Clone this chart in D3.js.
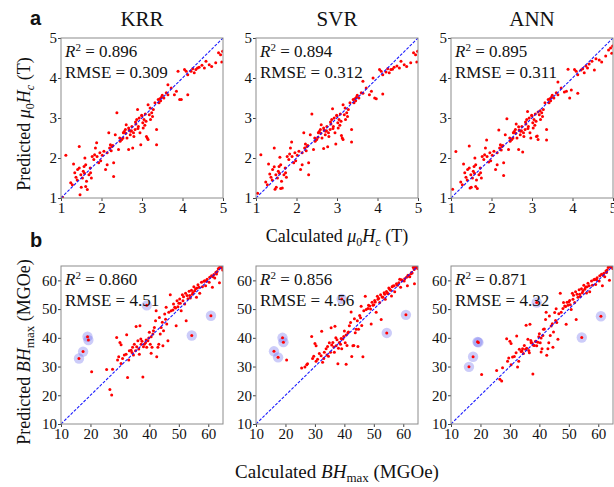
<!DOCTYPE html>
<html>
<head>
<meta charset="utf-8">
<script src="https://cdn.jsdelivr.net/npm/d3@7"></script>
<style>
  body { margin: 0; background: #fff; }
  text { font-family: "Liberation Serif", "Times New Roman", serif; fill: #111; }
</style>
</head>
<body>
<svg id="chart" width="614" height="487"></svg>
<script>
// models shown in each row
var models = ["KRR", "SVR", "ANN"];

// row a: coercivity mu0Hc (T)
var hcTicks = [1, 2, 3, 4, 5];
var hcR2 = ["0.896", "0.894", "0.895"];
var hcRmse = ["0.309", "0.312", "0.311"];

var hcCalc = [1.04,1.12,1.31,1.34,1.37,1.24,1.28,1.41,1.45,1.45,
  1.49,1.50,1.47,1.53,1.55,1.57,1.59,1.61,1.61,1.63,
  1.65,1.69,1.72,1.73,1.75,1.77,1.81,1.83,1.85,1.88,
  1.89,1.93,1.96,1.98,2.02,2.06,2.10,2.14,2.14,2.18,
  2.20,2.22,2.24,2.26,2.28,2.30,2.30,2.34,2.38,2.42,
  2.45,2.46,2.50,2.53,2.54,2.59,2.61,2.63,2.67,2.67,
  2.71,2.72,2.75,2.77,2.79,2.80,2.83,2.85,2.87,2.89,
  2.91,2.93,2.95,2.97,2.99,3.02,3.03,3.05,3.07,3.10,
  3.11,3.13,3.15,3.15,3.18,3.20,3.21,3.24,3.26,3.28,
  3.32,3.36,3.36,3.40,3.42,3.44,3.46,3.48,3.50,3.54,
  3.60,3.64,3.64,3.72,3.80,3.85,3.93,3.97,4.13,3.89,
  4.05,4.09,4.13,4.21,4.25,4.29,4.33,4.37,4.41,4.48,
  4.54,4.58,4.66,4.72,4.82,4.89,4.94,4.97,4.99,
  2.60,2.74,2.90,3.00,2.56,3.08,1.40,1.58,2.68,2.84];

var krrHc = [1.02,2.07,1.85,1.63,1.52,1.38,1.33,1.71,1.75,2.29,
  1.58,1.27,1.08,1.50,1.67,1.79,2.00,1.83,1.29,1.42,
  1.21,1.58,1.75,1.63,1.50,2.04,1.96,2.08,2.25,2.38,
  2.04,1.88,2.13,1.93,2.07,2.17,1.71,1.83,2.13,2.63,
  2.25,2.33,2.18,2.29,2.31,1.88,1.54,2.58,3.13,2.21,
  2.50,2.42,2.46,2.50,2.63,2.71,2.83,2.50,2.21,2.75,
  2.58,2.67,2.79,2.25,2.63,2.54,2.71,2.85,2.96,3.21,
  2.79,3.00,2.63,2.33,3.07,2.88,2.75,2.96,2.82,2.92,
  2.54,2.50,2.46,3.33,3.08,3.25,2.96,3.13,3.04,3.21,
  3.38,2.71,2.33,3.46,3.38,3.48,3.43,3.52,3.57,3.50,
  3.63,3.83,3.58,3.75,3.58,3.67,3.46,3.46,3.58,4.17,
  4.21,4.17,4.08,4.17,4.23,4.13,4.21,4.25,4.27,4.32,
  4.25,4.42,4.33,4.29,4.38,4.63,4.58,4.40,4.67,
  2.62,2.68,2.74,3.05,2.66,3.10,1.45,1.62,2.70,2.90];

var svrHc = [1.12,2.08,1.85,1.60,1.52,1.40,1.33,1.71,1.78,2.25,
  1.58,1.27,1.22,1.50,1.67,1.79,2.02,1.83,1.24,1.42,
  1.25,1.58,1.75,1.63,1.52,2.04,1.96,2.10,2.25,2.40,
  2.04,1.88,2.13,1.93,2.07,2.17,1.71,1.83,2.13,2.63,
  2.25,2.35,2.18,2.29,2.31,1.88,1.58,2.58,3.10,2.21,
  2.50,2.42,2.46,2.52,2.63,2.71,2.83,2.50,2.24,2.75,
  2.58,2.67,2.79,2.28,2.63,2.54,2.71,2.85,2.96,3.23,
  2.79,3.00,2.63,2.35,3.07,2.88,2.75,2.96,2.82,2.92,
  2.56,2.50,2.46,3.33,3.08,3.25,2.96,3.13,3.04,3.21,
  3.38,2.71,2.40,3.46,3.38,3.48,3.43,3.52,3.57,3.50,
  3.63,3.92,3.62,3.75,3.58,3.67,3.50,3.48,3.60,4.00,
  4.21,4.17,4.08,4.15,4.23,4.13,4.21,4.22,4.27,4.30,
  4.25,4.42,4.33,4.29,4.38,4.63,4.58,4.40,4.67,
  2.62,2.68,2.74,3.05,2.66,3.10,1.45,1.62,2.70,2.90];

var annHc = [1.22,2.16,1.85,1.63,1.52,1.40,1.33,1.71,1.75,2.30,
  1.58,1.27,1.25,1.50,1.67,1.79,2.00,1.83,1.29,1.45,
  1.24,1.58,1.75,1.63,1.50,2.04,1.96,2.08,2.25,2.45,
  2.04,1.90,2.13,1.93,2.07,2.17,1.71,1.83,2.13,2.70,
  2.25,2.33,2.20,2.29,2.31,1.88,1.56,2.58,2.98,2.21,
  2.50,2.42,2.46,2.50,2.63,2.71,2.85,2.50,2.21,2.78,
  2.58,2.67,2.79,2.15,2.63,2.54,2.71,2.85,2.96,3.16,
  2.79,3.00,2.63,2.50,3.07,2.88,2.75,2.96,2.82,2.92,
  2.54,2.55,2.46,3.15,3.08,3.18,2.96,3.13,3.04,3.21,
  3.38,2.71,2.45,3.46,3.38,3.48,3.43,3.52,3.57,3.50,
  3.63,3.90,3.58,3.75,3.65,3.67,3.50,3.70,3.62,4.22,
  4.21,4.17,4.08,4.20,4.23,4.13,4.30,4.25,4.35,4.42,
  4.20,4.48,4.45,4.40,4.55,4.70,4.75,4.62,4.80,
  2.62,2.68,2.74,3.05,2.66,3.10,1.45,1.62,2.70,2.90];

// row b: energy product BHmax (MGOe)
var bhTicks = [10, 20, 30, 40, 50, 60];
var bhR2 = ["0.860", "0.856", "0.871"];
var bhRmse = ["4.51", "4.56", "4.32"];

var bhCalc = [20.4,25.5,26.6,27.2,27.5,28.9,29.2,29.6,30.0,30.4,
  30.4,30.9,31.5,32.1,32.3,32.6,33.0,33.2,33.8,34.1,
  34.3,34.6,34.9,35.3,35.5,35.7,36.1,36.4,36.6,36.8,
  37.1,37.2,37.5,37.8,38.0,38.3,38.7,38.9,39.1,39.5,
  39.8,40.0,40.3,40.6,40.6,40.9,41.2,41.4,41.7,42.1,
  42.3,42.5,42.9,43.2,43.4,43.7,44.0,44.4,44.6,44.8,
  45.2,45.5,45.7,45.9,46.3,46.6,47.1,47.4,48.0,48.2,
  48.6,48.9,49.1,49.4,49.7,50.0,50.3,50.5,50.8,51.2,
  51.4,51.6,52.0,52.3,52.5,52.8,53.1,53.5,53.7,53.9,
  54.3,54.6,54.8,55.1,55.4,55.7,56.0,56.2,56.5,56.9,
  57.1,57.7,58.0,58.5,58.8,59.1,59.4,59.6,60.3,60.5,
  61.1,61.4,61.6,61.9,62.2,62.6,62.8,63.0,63.4,63.7,
  63.9,64.2,64.5,64.8,64.9,63.8,64.6,64.9,64.7];

var krrBh = [28.2,29.0,22.0,20.1,29.1,40.1,32.3,33.4,38.4,37.6,
  31.1,32.8,34.0,34.3,41.1,26.2,32.3,35.5,35.7,34.9,
  36.7,34.0,37.8,35.5,43.9,36.9,39.0,36.1,34.3,44.2,
  39.6,37.8,38.8,26.4,36.9,37.8,38.3,39.2,36.7,39.0,
  39.9,41.9,37.8,40.4,34.6,36.7,41.3,42.5,43.6,45.9,
  49.4,33.4,36.7,37.8,47.1,41.3,43.6,45.4,37.2,42.5,
  48.3,46.5,50.6,44.8,39.0,48.9,55.0,49.4,49.7,51.8,
  50.6,50.4,44.2,52.9,50.8,52.0,53.5,52.0,49.4,55.0,
  52.9,54.3,51.8,55.5,45.9,54.7,53.6,56.2,54.7,53.9,
  56.6,55.2,55.8,57.8,56.4,57.1,54.1,57.3,58.5,57.6,
  55.5,59.3,57.8,59.7,59.9,58.1,59.7,60.4,59.3,61.1,
  61.6,57.6,61.3,62.0,60.8,62.8,62.2,63.1,64.0,64.3,
  64.5,64.8,64.8,64.3,63.6,59.2,64.9,64.6,65.0];

var svrBh = [32.3,29.5,29.8,30.6,31.0,40.5,32.8,33.6,38.0,37.2,
  31.8,32.5,34.5,33.8,42.3,31.5,32.8,35.0,36.2,34.0,
  37.0,33.6,38.3,35.0,43.5,37.5,38.4,36.8,35.0,44.0,
  40.0,37.2,39.3,31.0,36.4,38.4,37.8,39.8,36.2,39.6,
  40.5,42.4,38.3,41.0,30.8,37.3,41.8,42.0,44.2,45.3,
  49.0,33.5,37.2,37.3,46.6,41.8,43.0,45.9,37.0,43.0,
  47.8,47.0,51.0,44.3,33.4,49.4,54.5,49.9,50.2,51.3,
  51.1,50.0,44.8,52.4,51.3,51.5,53.0,52.5,48.9,54.5,
  53.4,53.8,52.3,55.0,46.4,54.2,54.1,55.7,55.2,53.4,
  56.1,55.7,55.3,57.3,56.9,56.6,54.6,57.8,58.0,58.1,
  56.0,58.8,58.3,59.2,60.4,57.6,60.2,59.9,59.8,60.6,
  61.1,58.1,61.8,61.5,61.3,62.3,62.7,62.6,64.5,63.8,
  64.8,64.4,64.9,64.7,64.1,58.8,64.9,64.8,65.0];

var annBh = [27.2,28.6,25.6,25.0,29.6,39.7,31.8,33.0,38.8,38.0,
  30.6,33.3,33.5,34.8,40.6,29.8,31.8,36.0,35.2,35.4,
  36.2,34.5,37.3,36.0,44.4,36.4,39.5,35.6,34.8,44.7,
  39.1,38.3,38.3,27.4,37.4,37.3,38.8,38.7,37.2,38.5,
  40.4,41.4,38.3,39.9,35.1,36.2,40.8,43.0,43.1,46.4,
  48.9,33.9,36.2,38.3,47.6,40.8,44.1,44.9,36.7,42.0,
  48.8,46.0,50.1,45.3,39.5,48.4,55.5,48.9,50.2,52.3,
  51.1,50.9,44.7,52.4,51.3,52.5,53.0,51.5,49.9,55.5,
  53.4,54.8,52.3,56.0,46.4,55.2,54.1,56.7,55.2,54.4,
  57.1,55.7,56.3,58.3,56.9,57.6,55.6,57.8,59.0,58.1,
  56.0,59.8,58.3,60.2,60.4,58.6,60.2,60.9,59.8,61.6,
  62.1,58.1,61.8,62.5,61.3,63.3,62.7,63.6,64.5,64.8,
  64.8,64.9,64.9,64.8,64.1,60.0,64.9,65.0,65.0];

// outliers circled in row b
var bhOutCalc = [16.1, 17.5, 19.0, 19.3, 39.1, 54.4, 60.9];
var krrBhOut = [32.8, 35.2, 40.4, 39.2, 51.3, 40.8, 47.7];
var svrBhOut = [35.3, 33.2, 40.0, 38.5, 53.5, 41.7, 48.0];
var annBhOut = [29.9, 33.4, 38.6, 38.4, 52.3, 40.1, 47.5];

var svg = d3.select("#chart");
var colX = [61, 256, 451], panelW = 162;
var clipId = 0;

function drawPanel(x0, top, bottom, domain, ticks, calc, pred, r2, rmse, outCalc, outPred) {
  var x = d3.scaleLinear().domain(domain).range([x0, x0 + panelW]);
  var y = d3.scaleLinear().domain(domain).range([bottom, top]);
  var g = svg.append("g");

  clipId++;
  g.append("clipPath").attr("id", "clip" + clipId)
    .append("rect")
      .attr("x", x0).attr("y", top)
      .attr("width", panelW).attr("height", bottom - top);

  var plot = g.append("g").attr("clip-path", "url(#clip" + clipId + ")");

  if (outCalc) {
    plot.selectAll(".halo")
      .data(outCalc)
      .enter().append("circle")
        .attr("class", "halo")
        .attr("cx", function(d) { return x(d); })
        .attr("cy", function(d, i) { return y(outPred[i]); })
        .attr("r", 5.2)
        .style("fill", "#6464ee")
        .style("fill-opacity", 0.33);
  }

  var pts = calc.map(function(d, i) { return [d, pred[i]]; });
  if (outCalc)
    pts = pts.concat(outCalc.map(function(d, i) { return [d, outPred[i]]; }));

  plot.selectAll(".dot")
    .data(pts)
    .enter().append("circle")
      .attr("class", "dot")
      .attr("cx", function(d) { return x(d[0]); })
      .attr("cy", function(d) { return y(d[1]); })
      .attr("r", 1.5)
      .style("fill", "#ff0000");

  plot.append("line")
    .attr("x1", x(domain[0])).attr("y1", y(domain[0]))
    .attr("x2", x(domain[1])).attr("y2", y(domain[1]))
    .style("stroke", "#1a1aff")
    .style("stroke-width", 1.1)
    .style("stroke-dasharray", "3,1.5");

  var xAxis = g.append("g")
    .attr("transform", "translate(0," + bottom + ")")
    .call(d3.axisBottom(x).tickValues(ticks).tickFormat(d3.format("d"))
      .tickSizeInner(3).tickSizeOuter(0).tickPadding(1));
  var yAxis = g.append("g")
    .attr("transform", "translate(" + x0 + ",0)")
    .call(d3.axisLeft(y).tickValues(ticks).tickFormat(d3.format("d"))
      .tickSizeInner(3).tickSizeOuter(0).tickPadding(1));
  [xAxis, yAxis].forEach(function(a) {
    a.attr("font-family", "Liberation Serif").attr("font-size", 15);
    a.select(".domain").remove();
    a.selectAll(".tick line").style("stroke", "#444");
    a.selectAll(".tick text")
      .style("font-family", "'Liberation Serif', serif")
      .style("font-size", "15px")
      .style("fill", "#111");
  });

  g.append("rect")
    .attr("x", x0).attr("y", top)
    .attr("width", panelW).attr("height", bottom - top)
    .style("fill", "none")
    .style("stroke", "#8c8c8c")
    .style("stroke-width", 1);

  var t1 = g.append("text")
    .attr("x", x0 + 4).attr("y", top + 19)
    .style("font-size", "17px");
  t1.append("tspan").style("font-style", "italic").text("R");
  t1.append("tspan").attr("dy", -6).style("font-size", "11px").text("2");
  t1.append("tspan").attr("dy", 6).text(" = " + r2);

  g.append("text")
    .attr("x", x0 + 4).attr("y", top + 40)
    .style("font-size", "17px")
    .text("RMSE = " + rmse);
}

var hcPreds = [krrHc, svrHc, annHc];
var bhPreds = [krrBh, svrBh, annBh];
var bhOutPreds = [krrBhOut, svrBhOut, annBhOut];

models.forEach(function(m, i) {
  svg.append("text")
    .attr("x", colX[i] + panelW / 2).attr("y", 26)
    .attr("text-anchor", "middle")
    .style("font-size", "21px")
    .text(m);
  drawPanel(colX[i], 38, 198, [1, 5], hcTicks, hcCalc, hcPreds[i], hcR2[i], hcRmse[i]);
  drawPanel(colX[i], 266, 424, [10, 65], bhTicks, bhCalc, bhPreds[i], bhR2[i], bhRmse[i], bhOutCalc, bhOutPreds[i]);
});

// panel letters
svg.append("text").attr("x", 30).attr("y", 25)
  .style("font-family", "'Liberation Sans', Arial, sans-serif")
  .style("font-weight", "bold").style("font-size", "20px").text("a");
svg.append("text").attr("x", 30).attr("y", 247)
  .style("font-family", "'Liberation Sans', Arial, sans-serif")
  .style("font-weight", "bold").style("font-size", "20px").text("b");

// axis labels with mu0Hc
function hcLabel(sel, prefix) {
  sel.append("tspan").text(prefix);
  sel.append("tspan").style("font-style", "italic").text("μ");
  sel.append("tspan").attr("dy", 4).style("font-size", "12px").text("0");
  sel.append("tspan").attr("dy", -4).style("font-style", "italic").text("H");
  sel.append("tspan").attr("dy", 4).style("font-size", "12px").style("font-style", "italic").text("c");
  sel.append("tspan").attr("dy", -4).text(" (T)");
}
function bhLabel(sel, prefix) {
  sel.append("tspan").text(prefix);
  sel.append("tspan").style("font-style", "italic").text("BH");
  sel.append("tspan").attr("dy", 4).style("font-size", "13px").text("max");
  sel.append("tspan").attr("dy", -4).text(" (MGOe)");
}

var yl1 = svg.append("text")
  .attr("transform", "translate(30,124) rotate(-90)")
  .attr("text-anchor", "middle").style("font-size", "18px");
hcLabel(yl1, "Predicted ");

var xl1 = svg.append("text")
  .attr("x", 337).attr("y", 242)
  .attr("text-anchor", "middle").style("font-size", "18px");
hcLabel(xl1, "Calculated ");

var yl2 = svg.append("text")
  .attr("transform", "translate(30,352) rotate(-90)")
  .attr("text-anchor", "middle").style("font-size", "18px");
bhLabel(yl2, "Predicted ");

var xl2 = svg.append("text")
  .attr("x", 337).attr("y", 478)
  .attr("text-anchor", "middle").style("font-size", "19px");
bhLabel(xl2, "Calculated ");
</script>
</body>
</html>
